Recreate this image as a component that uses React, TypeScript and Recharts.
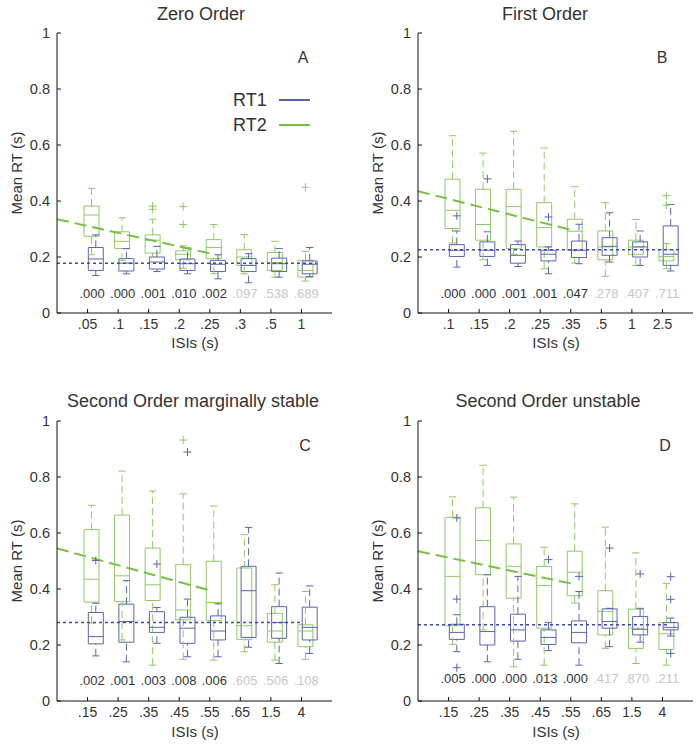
import React from "react";
import {
  ComposedChart,
  Line,
  ReferenceArea,
  ReferenceLine,
  Scatter,
  XAxis,
  YAxis,
} from "recharts";

type Box = [number, number, number, number, number]; // low whisker, q1, median, q3, high whisker
type Pt = [number, number]; // category (1-based), value

const BLUE = "#5864b2";
const BLUE_DARK = "#3e4aa4";
const GREEN = "#8cc864";
const GREEN_TREND = "#76bf45";
const TEXT = "#333";
const FONT = "'Liberation Sans', Arial, Helvetica, sans-serif";

// tick labels
const ZERO_ISI = [".05", ".1", ".15", ".2", ".25", ".3", ".5", "1"];
const FIRST_ISI = [".1", ".15", ".2", ".25", ".35", ".5", "1", "2.5"];
const SECOND_ISI = [".15", ".25", ".35", ".45", ".55", ".65", "1.5", "4"];

// Zero order
const ZERO_RT1: Box[] = [
  [0.134, 0.152, 0.193, 0.234, 0.279],
  [0.14, 0.15, 0.178, 0.194, 0.23],
  [0.148, 0.157, 0.182, 0.2, 0.238],
  [0.14, 0.152, 0.176, 0.193, 0.232],
  [0.122, 0.148, 0.174, 0.188, 0.208],
  [0.108, 0.148, 0.17, 0.194, 0.212],
  [0.128, 0.148, 0.176, 0.196, 0.23],
  [0.13, 0.14, 0.174, 0.186, 0.234],
];
const ZERO_RT2: Box[] = [
  [0.208, 0.274, 0.35, 0.382, 0.445],
  [0.188, 0.23, 0.256, 0.29, 0.34],
  [0.2, 0.214, 0.26, 0.279, 0.335],
  [0.16, 0.19, 0.21, 0.222, 0.24],
  [0.14, 0.194, 0.234, 0.262, 0.316],
  [0.14, 0.17, 0.2, 0.226, 0.28],
  [0.128, 0.152, 0.18, 0.216, 0.256],
  [0.114, 0.128, 0.152, 0.188, 0.22],
];
const ZERO_RT1_OUT: Pt[] = [];
const ZERO_RT2_OUT: Pt[] = [[3, 0.382], [3, 0.37], [4, 0.38], [4, 0.316], [8, 0.449]];
const ZERO_P = [".000", ".000", ".001", ".010", ".002", ".097", ".538", ".689"];

// First order
const FIRST_RT1: Box[] = [
  [0.164, 0.202, 0.224, 0.244, 0.293],
  [0.17, 0.202, 0.224, 0.254, 0.29],
  [0.166, 0.178, 0.206, 0.244, 0.257],
  [0.14, 0.186, 0.21, 0.224, 0.236],
  [0.176, 0.198, 0.224, 0.257, 0.317],
  [0.182, 0.206, 0.238, 0.269, 0.358],
  [0.17, 0.2, 0.236, 0.254, 0.293],
  [0.15, 0.17, 0.21, 0.311, 0.388],
];
const FIRST_RT2: Box[] = [
  [0.25, 0.302, 0.367, 0.478, 0.633],
  [0.19, 0.26, 0.316, 0.442, 0.571],
  [0.21, 0.23, 0.38, 0.442, 0.649],
  [0.158, 0.236, 0.305, 0.394, 0.589],
  [0.178, 0.224, 0.292, 0.335, 0.451],
  [0.131, 0.19, 0.236, 0.293, 0.394],
  [0.17, 0.21, 0.236, 0.26, 0.334],
  [0.158, 0.186, 0.202, 0.226, 0.248],
];
const FIRST_RT1_OUT: Pt[] = [[1, 0.347], [2, 0.479], [4, 0.343]];
const FIRST_RT2_OUT: Pt[] = [[8, 0.419], [8, 0.385]];
const FIRST_P = [".000", ".000", ".001", ".001", ".047", ".278", ".407", ".711"];

// Second order, marginally stable
const MARG_RT1: Box[] = [
  [0.161, 0.204, 0.23, 0.316, 0.349],
  [0.14, 0.21, 0.284, 0.346, 0.43],
  [0.206, 0.245, 0.263, 0.319, 0.334],
  [0.158, 0.206, 0.26, 0.299, 0.364],
  [0.158, 0.218, 0.25, 0.304, 0.347],
  [0.192, 0.227, 0.394, 0.481, 0.62],
  [0.134, 0.224, 0.28, 0.337, 0.457],
  [0.17, 0.218, 0.263, 0.335, 0.411],
];
const MARG_RT2: Box[] = [
  [0.278, 0.353, 0.435, 0.612, 0.699],
  [0.218, 0.355, 0.447, 0.664, 0.821],
  [0.128, 0.359, 0.415, 0.546, 0.75],
  [0.149, 0.29, 0.325, 0.487, 0.74],
  [0.146, 0.287, 0.352, 0.499, 0.696],
  [0.176, 0.22, 0.269, 0.475, 0.594],
  [0.146, 0.21, 0.25, 0.313, 0.415],
  [0.149, 0.194, 0.25, 0.272, 0.391],
];
const MARG_RT1_OUT: Pt[] = [[1, 0.502], [3, 0.489], [4, 0.889]];
const MARG_RT2_OUT: Pt[] = [[4, 0.932]];
const MARG_P = [".002", ".001", ".003", ".008", ".006", ".605", ".506", ".108"];

// Second order, unstable
const UNST_RT1: Box[] = [
  [0.176, 0.22, 0.245, 0.274, 0.308],
  [0.14, 0.2, 0.248, 0.337, 0.451],
  [0.149, 0.214, 0.254, 0.31, 0.445],
  [0.18, 0.202, 0.227, 0.254, 0.28],
  [0.128, 0.208, 0.245, 0.286, 0.391],
  [0.194, 0.26, 0.284, 0.329, 0.331],
  [0.21, 0.236, 0.256, 0.302, 0.331],
  [0.232, 0.254, 0.263, 0.28, 0.296],
];
const UNST_RT2: Box[] = [
  [0.202, 0.269, 0.445, 0.656, 0.729],
  [0.254, 0.451, 0.573, 0.69, 0.842],
  [0.122, 0.367, 0.481, 0.561, 0.728],
  [0.128, 0.26, 0.412, 0.481, 0.549],
  [0.35, 0.376, 0.46, 0.535, 0.704],
  [0.188, 0.236, 0.32, 0.394, 0.621],
  [0.134, 0.188, 0.26, 0.328, 0.529],
  [0.128, 0.184, 0.24, 0.28, 0.42],
];
const UNST_RT1_OUT: Pt[] = [
  [1, 0.654], [1, 0.364], [1, 0.119], [4, 0.505], [5, 0.445],
  [6, 0.546], [7, 0.454], [8, 0.444], [8, 0.363], [8, 0.17],
];
const UNST_RT2_OUT: Pt[] = [];
const UNST_P = [".005", ".000", ".000", ".013", ".000", ".417", ".870", ".211"];

// RT1 mean (dotted) and RT2 trend (dashed, start/end)
const BASELINES = [0.178, 0.226, 0.28, 0.272];
const BASELINE_END = [8.5, 8.6, 8.05, 8.15];
const TRENDS: [number, number][] = [
  [0.335, 0.213],
  [0.435, 0.297],
  [0.545, 0.395],
  [0.535, 0.42],
];
const P_Y = [0.07, 0.068, 0.075, 0.08];

const RT2_SHIFT = 0.13;
const RT1_SHIFT = 0.27;

function boxMarks(stats: Box[], shift: number, color: string, k: string) {
  const w = 0.245;
  const cap = 0.12;
  return stats.flatMap(([lo, q1, med, q3, hi], i) => {
    const x = i + 1 + shift;
    return [
      <ReferenceLine key={`${k}wl${i}`} segment={[{ x, y: lo }, { x, y: q1 }]} stroke={color} strokeDasharray="7 4" />,
      <ReferenceLine key={`${k}wh${i}`} segment={[{ x, y: q3 }, { x, y: hi }]} stroke={color} strokeDasharray="7 4" />,
      <ReferenceLine key={`${k}cl${i}`} segment={[{ x: x - cap, y: lo }, { x: x + cap, y: lo }]} stroke={color} />,
      <ReferenceLine key={`${k}ch${i}`} segment={[{ x: x - cap, y: hi }, { x: x + cap, y: hi }]} stroke={color} />,
      <ReferenceArea key={`${k}b${i}`} x1={x - w} x2={x + w} y1={q1} y2={q3} fill="none" fillOpacity={0} stroke={color} strokeWidth={1} />,
      <ReferenceLine key={`${k}m${i}`} segment={[{ x: x - w, y: med }, { x: x + w, y: med }]} stroke={color} />,
    ];
  });
}

const plus = (color: string) => (props: any) => {
  const { cx, cy } = props;
  if (cx == null || cy == null) return <g />;
  return <path d={`M${cx - 4},${cy}h8M${cx},${cy - 4}v8`} stroke={color} strokeWidth={1} fill="none" />;
};

const PText = (props: any) => {
  const { cx, cy, payload } = props;
  return (
    <text x={cx} y={cy} textAnchor="middle" dominantBaseline="central" fontSize={13} fontFamily={FONT} fill={payload.sig ? TEXT : "#c6c6c6"}>
      {payload.label}
    </text>
  );
};

type PanelProps = {
  idx: number;
  left: number;
  top: number;
  height: number;
  plotLeft: number;
  isis: string[];
  rt1: Box[];
  rt2: Box[];
  rt1Out: Pt[];
  rt2Out: Pt[];
  pvals: string[];
};

function Panel({ idx, left, top, height, plotLeft, isis, rt1, rt2, rt1Out, rt2Out, pvals }: PanelProps) {
  const trend = [
    { x: 0, y: TRENDS[idx][0] },
    { x: 5, y: TRENDS[idx][1] },
  ];
  const pData = pvals.map((label, i) => ({ x: i + 1 + 0.15, y: P_Y[idx], label, sig: i < 5 }));
  const o1 = rt1Out.map(([c, v]) => ({ x: c + RT1_SHIFT, y: v }));
  const o2 = rt2Out.map(([c, v]) => ({ x: c + RT2_SHIFT, y: v }));
  return (
    <div style={{ position: "absolute", left, top }}>
      <ComposedChart
        width={348}
        height={height}
        margin={{ top: 33, right: 348 - plotLeft - 275, bottom: height - 313 - 30, left: plotLeft - 30 }}
      >
        <XAxis
          type="number"
          dataKey="x"
          domain={[0, 9]}
          ticks={[1, 2, 3, 4, 5, 6, 7, 8]}
          tickFormatter={(v: number) => isis[v - 1] ?? ""}
          allowDataOverflow
          height={30}
          tickSize={-4}
          tickMargin={10}
          axisLine={{ stroke: "#111" }}
          tickLine={{ stroke: "#111" }}
          tick={{ fontSize: 14, fill: TEXT, fontFamily: FONT }}
        />
        <YAxis
          type="number"
          domain={[0, 1]}
          ticks={[0, 0.2, 0.4, 0.6, 0.8, 1]}
          tickFormatter={(v: number) => (v === 0 ? "0" : v === 1 ? "1" : v.toFixed(1))}
          allowDataOverflow
          width={30}
          tickSize={-4}
          tickMargin={11}
          axisLine={{ stroke: "#111" }}
          tickLine={{ stroke: "#111" }}
          tick={{ fontSize: 14.5, fill: TEXT, fontFamily: FONT }}
        />
        {boxMarks(rt2, RT2_SHIFT, GREEN, "g")}
        {boxMarks(rt1, RT1_SHIFT, BLUE, "b")}
        <ReferenceLine
          segment={[{ x: 0, y: BASELINES[idx] }, { x: BASELINE_END[idx], y: BASELINES[idx] }]}
          stroke={BLUE_DARK}
          strokeWidth={1.5}
          strokeDasharray="3 3"
        />
        <Line data={trend} dataKey="y" type="linear" stroke={GREEN_TREND} strokeWidth={2} strokeDasharray="12 6" dot={false} isAnimationActive={false} />
        <Scatter data={o2} dataKey="y" shape={plus(GREEN)} isAnimationActive={false} />
        <Scatter data={o1} dataKey="y" shape={plus(BLUE)} isAnimationActive={false} />
        <Scatter data={pData} dataKey="y" shape={PText} isAnimationActive={false} />
      </ComposedChart>
    </div>
  );
}

const abs = (left: number, top: number, extra: React.CSSProperties = {}): React.CSSProperties => ({
  position: "absolute",
  left,
  top,
  whiteSpace: "nowrap",
  color: TEXT,
  fontFamily: FONT,
  lineHeight: 1,
  ...extra,
});

function Caption({ x, y, size, children }: { x: number; y: number; size: number; children: React.ReactNode }) {
  return <div style={abs(x, y, { fontSize: size, transform: "translate(-50%, -50%)" })}>{children}</div>;
}

function YLabel({ x, y }: { x: number; y: number }) {
  return <div style={abs(x, y, { fontSize: 15, transform: "translate(-50%, -50%) rotate(-90deg)" })}>Mean RT (s)</div>;
}

export default function App() {
  return (
    <div style={{ position: "absolute", left: 0, top: 0, width: 696, height: 750, background: "#fff", overflow: "hidden", fontFamily: FONT }}>
      <Panel idx={0} left={0} top={0} height={375} plotLeft={57} isis={ZERO_ISI} rt1={ZERO_RT1} rt2={ZERO_RT2} rt1Out={ZERO_RT1_OUT} rt2Out={ZERO_RT2_OUT} pvals={ZERO_P} />
      <Panel idx={1} left={348} top={0} height={375} plotLeft={70} isis={FIRST_ISI} rt1={FIRST_RT1} rt2={FIRST_RT2} rt1Out={FIRST_RT1_OUT} rt2Out={FIRST_RT2_OUT} pvals={FIRST_P} />
      <Panel idx={2} left={0} top={388} height={362} plotLeft={57} isis={SECOND_ISI} rt1={MARG_RT1} rt2={MARG_RT2} rt1Out={MARG_RT1_OUT} rt2Out={MARG_RT2_OUT} pvals={MARG_P} />
      <Panel idx={3} left={348} top={388} height={362} plotLeft={70} isis={SECOND_ISI} rt1={UNST_RT1} rt2={UNST_RT2} rt1Out={UNST_RT1_OUT} rt2Out={UNST_RT2_OUT} pvals={UNST_P} />

      <Caption x={201} y={14} size={18}>Zero Order</Caption>
      <Caption x={545} y={14} size={18}>First Order</Caption>
      <Caption x={193} y={401} size={18}>Second Order marginally stable</Caption>
      <Caption x={548} y={401} size={18}>Second Order unstable</Caption>

      <Caption x={303} y={58} size={16}>A</Caption>
      <Caption x={662} y={58} size={16}>B</Caption>
      <Caption x={305} y={446} size={16}>C</Caption>
      <Caption x={665} y={446} size={16}>D</Caption>

      <Caption x={195} y={342} size={15}>ISIs (s)</Caption>
      <Caption x={556} y={342} size={15}>ISIs (s)</Caption>
      <Caption x={195} y={731} size={15}>ISIs (s)</Caption>
      <Caption x={556} y={731} size={15}>ISIs (s)</Caption>

      <YLabel x={16} y={173} />
      <YLabel x={377} y={173} />
      <YLabel x={16} y={561} />
      <YLabel x={377} y={561} />

      <div style={abs(233, 91, { fontSize: 18 })}>RT1</div>
      <div style={{ position: "absolute", left: 279, top: 99, width: 31, height: 2, background: BLUE }} />
      <div style={abs(233, 116, { fontSize: 18 })}>RT2</div>
      <div style={{ position: "absolute", left: 279, top: 124, width: 31, height: 2, background: GREEN_TREND }} />
    </div>
  );
}
